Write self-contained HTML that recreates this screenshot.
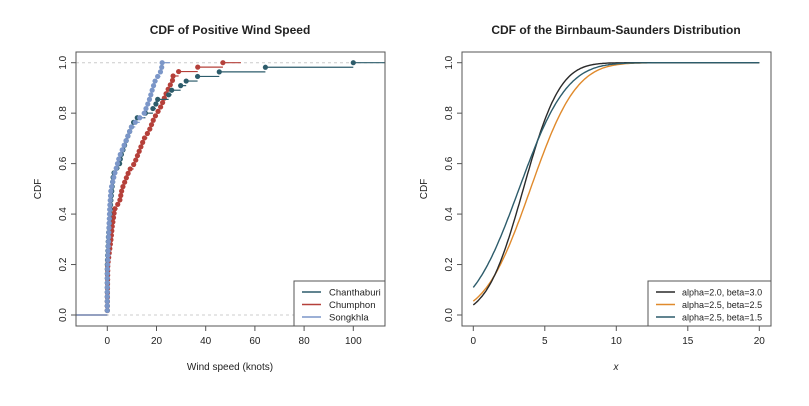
<!DOCTYPE html>
<html><head><meta charset="utf-8"><style>
body{margin:0;background:#fff}
svg text{font-family:"Liberation Sans",sans-serif;fill:#222}
</style></head><body>
<svg id="s" width="809" height="401" xmlns="http://www.w3.org/2000/svg">
<defs><clipPath id="c1"><rect x="76" y="52" width="309" height="274"/></clipPath></defs>
<rect width="809" height="401" fill="#fff"/>
<text x="230" y="34" font-size="12" font-weight="bold" text-anchor="middle">CDF of Positive Wind Speed</text>
<text x="616" y="34" font-size="12" font-weight="bold" text-anchor="middle">CDF of the Birnbaum-Saunders Distribution</text>
<text x="230" y="370" font-size="10" text-anchor="middle">Wind speed (knots)</text>
<text x="616" y="370" font-size="10" font-style="italic" text-anchor="middle">x</text>
<text transform="translate(41,189) rotate(-90)" font-size="10" text-anchor="middle">CDF</text>
<text transform="translate(427,189) rotate(-90)" font-size="10" text-anchor="middle">CDF</text>
<g id="L" clip-path="url(#c1)"></g><g id="R"></g>
</svg>
<script>
var NS="http://www.w3.org/2000/svg",svg=document.getElementById('s');
function el(t,a,p,txt){var e=document.createElementNS(NS,t);for(var k in a)e.setAttribute(k,a[k]);if(txt!=null)e.textContent=txt;(p||svg).appendChild(e);return e;}
function Y(v){return 315-v*252.3;}
var X1=function(v){return 107.3+v*2.46;};
var L=document.getElementById('L');
el('line',{x1:76,x2:385,y1:Y(0),y2:Y(0),stroke:'#ccc','stroke-dasharray':'3,3','stroke-width':1},L);
el('line',{x1:76,x2:385,y1:Y(1),y2:Y(1),stroke:'#ccc','stroke-dasharray':'3,3','stroke-width':1},L);
function gen(n,k){var d=[];for(var i=1;i<=n;i++){var F=i/n,x=k[k.length-1][1];
 for(var j=1;j<k.length;j++){if(F<=k[j][0]){var a=k[j-1],b=k[j];x=a[1]+(b[1]-a[1])*Math.max(0,(F-a[0]))/(b[0]-a[0]);break;}}
 d.push(x);}return d;}
var so=gen(55,[[0,0],[0.16,0],[0.43,1],[0.5,1.5],[0.56,3],[0.63,5],[0.7,8],[0.75,10],[0.8,15],[0.85,17],[0.9,18.5],[0.93,19.5],[0.97,22],[1,22.3]]);
var ch=gen(55,[[0,0],[0.09,0],[0.2,0],[0.32,0.5],[0.46,1.5],[0.56,2.5],[0.6,5],[0.63,5.5],[0.7,8],[0.75,10],[0.77,11],[0.79,13],[0.81,18],[0.84,20],[0.855,20.5],[0.873,25],[0.89,26],[0.91,30],[0.927,32],[0.945,36.5],[0.962,44],[0.98,60.7],[1,100]]);
var cu=gen(57,[[0,0],[0.035,0],[0.2,0.2],[0.3,1.5],[0.35,2],[0.42,3],[0.45,5],[0.5,6],[0.575,9],[0.6,11],[0.65,13],[0.7,15],[0.73,17],[0.78,19],[0.83,22],[0.88,24],[0.9,25],[0.93,26.5],[0.947,26.7],[0.965,29],[0.982,36.5],[1,47]]);
function ecdf(d,col,tail){var n=d.length;
 el('line',{x1:76,x2:X1(d[0]),y1:Y(0),y2:Y(0),stroke:col,'stroke-width':1.2},L);
 for(var i=0;i<n;i++){var f=(i+1)/n;var x2=i<n-1?X1(d[i+1]):X1(d[i])+tail;
  el('line',{x1:X1(d[i]),x2:x2,y1:Y(f),y2:Y(f),stroke:col,'stroke-width':1.2},L);}
 for(var i=0;i<n;i++){el('circle',{cx:X1(d[i]),cy:Y((i+1)/n),r:2.6,fill:col},L);}
}
ecdf(cu,'#b5403a',18);ecdf(ch,'#2d5c6b',40);ecdf(so,'#7b96c8',8);
var X2=function(v){return 473.3+v*14.3;};
var R=document.getElementById('R');
function erf(x){var s=x<0?-1:1;x=Math.abs(x);var t=1/(1+0.3275911*x);var y=1-(((((1.061405429*t-1.453152027)*t)+1.421413741)*t-0.284496736)*t+0.254829592)*t*Math.exp(-x*x);return s*y;}
function Phi(z){return 0.5*(1+erf(z/Math.SQRT2));}
[[4,2.5,'#e08a2c'],[3.5,2,'#2a2a2a'],[3.2,2.6,'#2d5c6b']].forEach(function(c){var p=[];for(var x=0;x<=20.001;x+=0.1)p.push(X2(x).toFixed(1)+','+Y(Phi((x-c[0])/c[1])).toFixed(1));
 el('polyline',{points:p.join(' '),fill:'none',stroke:c[2],'stroke-width':1.4},R);});
function axes(x0,x1,ticks,fx,labs){
 el('rect',{x:x0,y:52,width:x1-x0,height:274,fill:'none',stroke:'#555','stroke-width':1});
 ticks.forEach(function(t,i){var x=fx(t);el('line',{x1:x,x2:x,y1:326,y2:331,stroke:'#555'});el('text',{x:x,y:344,'font-size':10,'text-anchor':'middle'},null,labs[i]);});
 [0,0.2,0.4,0.6,0.8,1].forEach(function(v){var y=Y(v);el('line',{x1:x0,x2:x0-5,y1:y,y2:y,stroke:'#555'});
  el('text',{transform:'translate('+(x0-10)+','+y+') rotate(-90)','font-size':10,'text-anchor':'middle'},null,v.toFixed(1));});
}
axes(76,385,[0,20,40,60,80,100],X1,['0','20','40','60','80','100']);
axes(462,771,[0,5,10,15,20],X2,['0','5','10','15','20']);
function legend(x0,x1,items,fs,tx){el('rect',{x:x0,y:281,width:x1-x0,height:45,fill:'#fff',stroke:'#555'});
 items.forEach(function(it,i){var y=292+i*12.5;el('line',{x1:x0+8,x2:x0+27,y1:y,y2:y,stroke:it[1],'stroke-width':1.5});
 el('text',{x:x0+tx,y:y+3.5,'font-size':fs},null,it[0]);});}
legend(294,385,[['Chanthaburi','#2d5c6b'],['Chumphon','#b5403a'],['Songkhla','#7b96c8']],9.5,35);
legend(648,771,[['alpha=2.0, beta=3.0','#2a2a2a'],['alpha=2.5, beta=2.5','#e08a2c'],['alpha=2.5, beta=1.5','#2d5c6b']],9,34);
</script>
</body></html>
